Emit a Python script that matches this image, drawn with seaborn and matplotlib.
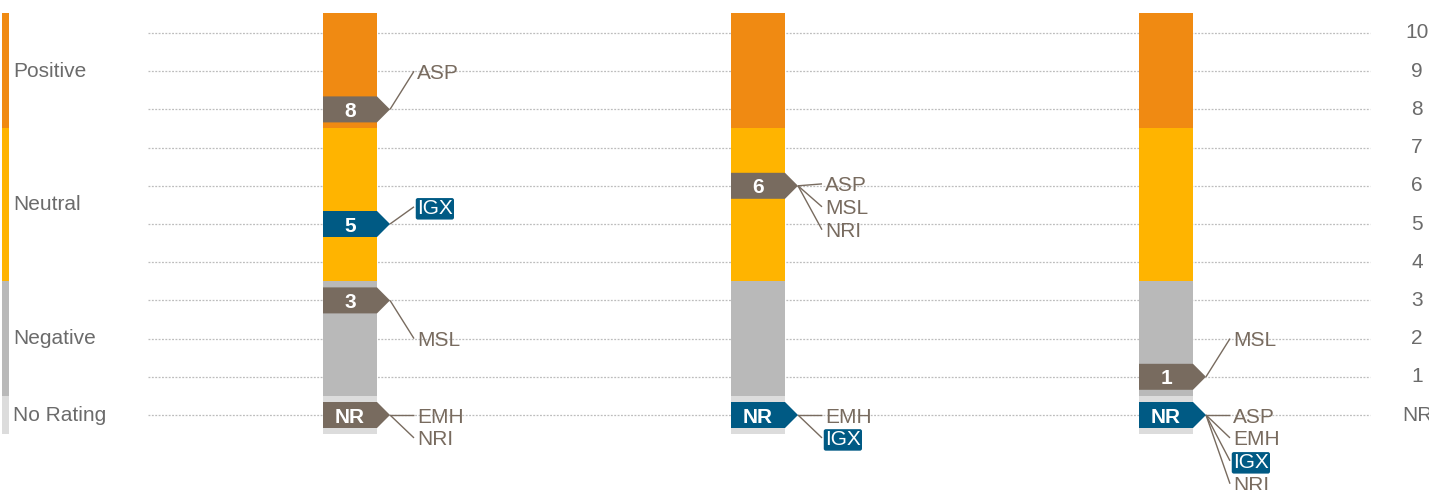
import matplotlib
matplotlib.use("Agg")
import matplotlib.pyplot as plt
from matplotlib.patches import Polygon
import seaborn as sns

# ---------------- data ----------------
segment_names = ["No Rating", "Negative", "Neutral", "Positive"]
segment_bounds = [-0.5, 0.5, 3.5, 7.5, 10.52]
segment_colors = ["#DCDCDC", "#B9B9B9", "#FFB400", "#F08A12"]
legend_label_values = [0, 2, 5.5, 9]

tick_values = [0, 1, 2, 3, 4, 5, 6, 7, 8, 9, 10]
tick_labels = ["NR", "1", "2", "3", "4", "5", "6", "7", "8", "9", "10"]

columns = [0, 1, 2]
agencies = ["ASP", "EMH", "IGX", "MSL", "NRI"]
# rating per agency for each column (0 = NR)
ratings_col1 = [8, 0, 5, 3, 0]
ratings_col2 = [6, 0, 0, 6, 6]
ratings_col3 = [0, 0, 0, 1, 0]
all_ratings = [ratings_col1, ratings_col2, ratings_col3]
highlight = "IGX"

# label layout: offset of first label from marker (value units), per column/rating
label_offsets = [
    {8: 1.0, 5: 0.45, 3: -1.0, 0: 0.0},
    {6: 0.05, 0: 0.0},
    {1: 1.0, 0: 0.0},
]
label_step = 0.6

# ---------------- style ----------------
sns.set_theme(style="white")
plt.rcParams["font.family"] = ["Liberation Sans", "DejaVu Sans"]

BROWN = "#786B5F"
BLUE = "#005A84"
TXT = "#6B6B6B"

PX = 408.0      # pixels per x unit
PY = 38.2       # pixels per y unit

fig = plt.figure(figsize=(14.29, 4.90), dpi=100)
ax = fig.add_axes([0, 0, 1, 1])
ax.set_xlim(-350 / PX, (1429 - 350) / PX)
ax.set_ylim((415 - 490) / PY, 415 / PY)
ax.axis("off")

# gridlines
ax.hlines(tick_values, -0.495, 2.5, colors="#BDBDBD", linewidth=0.9,
          linestyles=(0, (1.5, 1.2)), zorder=1)

# right tick labels
for v, t in zip(tick_values, tick_labels):
    ax.text(1417 / PX - 350 / PX, v, t, ha="center", va="center",
            fontsize=15, color=TXT)

# legend bar on the left
lx = (5.5 - 350) / PX
for i, name in enumerate(segment_names):
    lo, hi = segment_bounds[i], segment_bounds[i + 1]
    ax.bar(lx, hi - lo, bottom=lo, width=7 / PX, color=segment_colors[i],
           linewidth=0, zorder=2)
    ax.text((13 - 350) / PX, legend_label_values[i], name, ha="left",
            va="center", fontsize=15, color=TXT)

# stacked background bars
bw = 54 / PX
for c in columns:
    for i in range(len(segment_names)):
        lo, hi = segment_bounds[i], segment_bounds[i + 1]
        ax.bar(c, hi - lo, bottom=lo, width=bw, color=segment_colors[i],
               linewidth=0, zorder=2)

# markers and labels
mh = 26 / PY
tip = 13 / PX
for c, ratings in zip(columns, all_ratings):
    groups = {}
    for ag, r in zip(agencies, ratings):
        groups.setdefault(r, []).append(ag)
    for r, ags in groups.items():
        color = BLUE if highlight in ags else BROWN
        xl, xr = c - bw / 2, c + bw / 2
        xt = xr + tip
        poly = Polygon([(xl, r - mh / 2), (xr, r - mh / 2), (xt, r),
                        (xr, r + mh / 2), (xl, r + mh / 2)],
                       closed=True, facecolor=color, edgecolor="none",
                       zorder=4)
        ax.add_patch(poly)
        ax.text(c, r, "NR" if r == 0 else str(r), ha="center",
                va="center_baseline", fontsize=15, fontweight="bold",
                color="white", zorder=5)
        y0 = r + label_offsets[c][r]
        for k, ag in enumerate(ags):
            ly = y0 - k * label_step
            ax.plot([xt, xt + 24 / PX], [r, ly], color=BROWN, lw=1.0,
                    zorder=3, solid_capstyle="butt")
            if ag == highlight:
                ax.text(xt + 27 / PX, ly, ag, ha="left",
                        va="center_baseline", fontsize=15, color="white",
                        zorder=5,
                        bbox=dict(boxstyle="round,pad=0.06,rounding_size=0.1",
                                  fc=BLUE, ec="none"))
            else:
                ax.text(xt + 27 / PX, ly, ag, ha="left",
                        va="center_baseline", fontsize=15, color=BROWN,
                        zorder=5)

fig.savefig("out.png", dpi=100)
